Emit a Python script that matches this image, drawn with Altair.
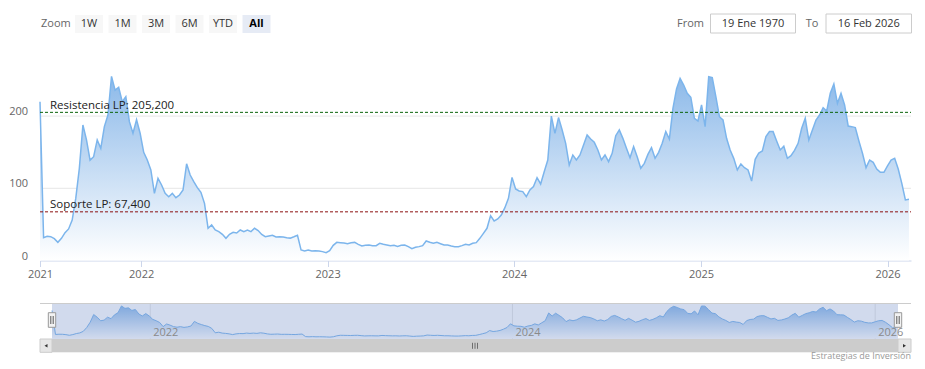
import altair as alt
import pandas as pd

# ---------------- data ----------------
START = "2021-06-17"
END = "2026-02-16"

# weekly closes
values = [
    220, 31.6, 33.5, 33, 30.3, 25.2, 30.7, 38.6, 43.7, 56, 86, 127.7, 187.7, 167, 139, 143.8,
    167, 155.4, 185.4, 201.5, 255, 236, 240, 220, 226.9, 192.3, 176.2, 195, 176.2, 149.8,
    139.2, 125.4, 93, 113.8, 104.6, 93, 88.4, 93, 87, 90.7, 97.7, 134, 118.4, 109.2, 100.9,
    94.4, 79.2, 44.6, 49.2, 42.3, 40, 36.3, 30.7, 36.3, 39, 38.1, 42.3, 40, 42.3, 40, 44.6,
    41.5, 36, 33, 34, 35, 32.5, 32.8, 32.5, 31.5, 31, 32.8, 34.8,
    14.6, 13.2, 14.6, 13.2, 13.6, 13.2, 12.3, 10.9, 13.5, 21, 25.2, 24.7, 24.2, 23.3, 24.7, 25.1, 22.4,
    20.1, 21, 21.5, 20.6, 20.6, 23.8, 22.4, 21.5, 20.6, 21, 19.6, 21, 21.5, 19.2, 16.4, 18.3,
    19.2, 20.6, 27, 25.2, 23.8, 25.2, 23.3, 21.5, 21.5, 20.1, 19.2, 19.2, 20.6, 22.4, 21.5, 23.8,
    24.7, 30.7, 37.6, 44.6, 62.1, 54.7, 57.5, 63, 73.2, 86.1, 115, 99.1, 96.3, 95.4, 88.4,
    97.7, 102.3, 114.7, 106, 123, 139.2, 200, 176, 198, 181, 162.3, 132.3, 146.1, 139.2,
    146.1, 160, 173.8, 168.3, 163.7, 153.1, 139.2, 146.1, 136.9, 148.5, 172.9, 180.8, 169.2,
    155.4, 142.4, 157.7, 143.8, 127.7, 134.6, 147, 156.3, 141.5, 149.8, 162.3, 178.5, 168.3,
    210.8, 237.6, 252.3, 243, 231.6, 226,
    197, 193.2, 215.4, 185.4, 254.6, 253.3, 227, 199.2, 194.6, 169.2, 153.1, 141.5, 125.4,
    133.7, 128.6, 125.4, 110, 140.1, 148.9, 151.7, 171.5, 178.5, 178.5, 165.5, 153.1, 158.2,
    141.5, 145.2, 152.6, 162.3, 183.1, 197, 166.9, 180.8, 194.6, 201.5, 211.7, 207.1, 231.6,
    244.5, 217.7, 231.6, 215.4, 186.3, 185.4, 184, 165.5, 148.5, 128.6, 139.2, 136, 126.7,
    122.1, 122.1, 130.9, 139.2, 141.5, 126.7, 106.9, 83.8, 84.7,
]
dates = pd.date_range(START, periods=len(values), freq="7D")

grid_values = [100, 200]
level_values = [205.2, 67.4]
level_labels = ["Resistencia LP: 205,200", "Soporte LP: 67,400"]
level_colors = ["#0a640a", "#8b1010"]

x_ticks = ["2021-06-17", "2022-01-01", "2023-01-01", "2024-01-01", "2025-01-01", "2026-01-01"]
y_ticks = [0, 100, 200]
nav_ticks = ["2022-01-01", "2024-01-01", "2026-01-01"]
nav_labels = ["2022", "2024", "2026"]

zoom_label = "Zoom"
zoom_buttons = ["1W", "1M", "3M", "6M", "YTD", "All"]
selected_button = "All"
from_label, from_value = "From", "19 Ene 1970"
to_label, to_value = "To", "16 Feb 2026"
credit = "Estrategias de Inversión"

FONT = "Open Sans"


def dt(s):
    y, m, d = (int(p) for p in s.split("-"))
    return alt.DateTime(year=y, month=m, date=d)


df = pd.DataFrame({"date": dates, "value": values})
df_grid = pd.DataFrame({"g": grid_values, "x0": pd.Timestamp(START), "x1": pd.Timestamp(END)})
df_lvl = pd.DataFrame({
    "v": level_values, "label": level_labels, "c": level_colors,
    "x0": pd.Timestamp(START), "x1": pd.Timestamp(END),
})
df_navt = pd.DataFrame({"t": pd.to_datetime(nav_ticks), "label": nav_labels})
one = pd.DataFrame({"d": [0]})

# ---------------- main chart scales / axes ----------------
xs_main = alt.Scale(domain=[dt(START), dt(END)], range=[32, 903], nice=False)
ys_main = alt.Scale(domain=[0, 300], range=[252.5, 35.9], nice=False, zero=True)

x_axis = alt.Axis(
    values=[dt(s) for s in x_ticks], labelExpr="timeFormat(datum.value, '%Y')",
    orient="bottom", offset=-100.5, title=None, grid=False,
    domainColor="#ccd6eb", tickColor="#ccd6eb", tickSize=6, labelPadding=2,
    labelColor="#666666", labelFontSize=11, labelFont=FONT, labelFlush=False,
    labelOverlap=False,
)
y_axis = alt.Axis(
    values=y_ticks, orient="left", offset=-19.5, title=None, grid=False,
    domain=False, ticks=False, tickSize=0, labelPadding=0, labelOffset=-4.5,
    labelColor="#666666", labelFontSize=11, labelFont=FONT,
)

grad = alt.Gradient(
    gradient="linear",
    stops=[alt.GradientStop(color="#8cb9e9", offset=0), alt.GradientStop(color="#ffffff", offset=1)],
    x1=1, x2=1, y1=0, y2=1,
)

grid = alt.Chart(df_grid).mark_rule(color="#e6e6e6", strokeWidth=1).encode(
    x=alt.X("x0:T", scale=xs_main, axis=x_axis),
    x2="x1:T",
    y=alt.Y("g:Q", scale=ys_main, axis=y_axis),
)
area = alt.Chart(df).mark_area(color=grad).encode(
    x=alt.X("date:T", scale=xs_main, axis=x_axis),
    y=alt.Y("value:Q", scale=ys_main, axis=y_axis),
)
line = alt.Chart(df).mark_line(color="#7cb5ec", strokeWidth=1.5).encode(
    x=alt.X("date:T", scale=xs_main, axis=x_axis),
    y=alt.Y("value:Q", scale=ys_main, axis=y_axis),
)
lvl_rule = alt.Chart(df_lvl).mark_rule(strokeDash=[3, 2], strokeWidth=1).encode(
    x=alt.X("x0:T", scale=xs_main, axis=x_axis),
    x2="x1:T",
    y=alt.Y("v:Q", scale=ys_main, axis=y_axis),
    color=alt.Color("c:N", scale=None),
)
lvl_text = alt.Chart(df_lvl).mark_text(
    align="left", baseline="alphabetic", dx=10, dy=-3.5, fontSize=11.5, font=FONT, color="#222222"
).encode(
    x=alt.X("x0:T", scale=xs_main, axis=x_axis),
    y=alt.Y("v:Q", scale=ys_main, axis=y_axis),
    text="label:N",
)
main = alt.layer(grid, area, line, lvl_rule, lvl_text)

# ---------------- navigator ----------------
xs_nav = alt.Scale(domain=[dt(START), dt(END)], range=[44, 890], nice=False)
ys_nav = alt.Scale(domain=[0, 260], range=[330.5, 297.3], nice=False)

nav_grid = alt.Chart(df_navt).mark_rule(color="#e6e6e6").encode(
    x=alt.X("t:T", scale=xs_nav, axis=None), y=alt.value(295), y2=alt.value(331)
)
nav_area = alt.Chart(df).mark_area(color=grad).encode(
    x=alt.X("date:T", scale=xs_nav, axis=None), y=alt.Y("value:Q", scale=ys_nav, axis=None)
)
nav_line = alt.Chart(df).mark_line(color="#7cb5ec", strokeWidth=1).encode(
    x=alt.X("date:T", scale=xs_nav, axis=None), y=alt.Y("value:Q", scale=ys_nav, axis=None)
)
nav_labels_layer = alt.Chart(df_navt).mark_text(
    align="left", baseline="alphabetic", dx=3, fontSize=11, font=FONT, color="#8a8a8a"
).encode(x=alt.X("t:T", scale=xs_nav, axis=None), y=alt.value(327.5), text="label:N")
nav = alt.layer(nav_grid, nav_area, nav_line)

base = alt.Chart(one)


def rect(x0, x1, y0, y1, **kw):
    return base.mark_rect(**kw).encode(
        x=alt.value(x0), x2=alt.value(x1), y=alt.value(y0), y2=alt.value(y1)
    )


def text(t, x, y, **kw):
    opts = dict(font=FONT, fontSize=11, baseline="middle", align="center", color="#333333")
    opts.update(kw)
    return base.mark_text(text=t, **opts).encode(x=alt.value(x), y=alt.value(y))


def vline(x, y0, y1, **kw):
    return base.mark_rule(**kw).encode(x=alt.value(x), y=alt.value(y0), y2=alt.value(y1))


def hline(x0, x1, y, **kw):
    return base.mark_rule(**kw).encode(x=alt.value(x0), x2=alt.value(x1), y=alt.value(y))


decor = []
# mask over navigator selection + outline
decor.append(rect(44, 890, 295.5, 331, color="#6685c2", opacity=0.3))
decor.append(hline(32, 903, 295.5, color="#cccccc", strokeWidth=1))
# scrollbar
decor.append(rect(32, 903, 331, 344.3, color="#f2f2f2"))
decor.append(rect(44, 890, 331, 344.3, color="#cccccc"))
decor.append(rect(32, 44, 331, 344.3, color="#e6e6e6", stroke="#cccccc", strokeWidth=1))
decor.append(rect(890, 903, 331, 344.3, color="#e6e6e6", stroke="#cccccc", strokeWidth=1))
decor.append(base.mark_point(shape="triangle-left", filled=True, size=12, color="#333333", opacity=1)
             .encode(x=alt.value(38), y=alt.value(337.7)))
decor.append(base.mark_point(shape="triangle-right", filled=True, size=12, color="#333333", opacity=1)
             .encode(x=alt.value(896.5), y=alt.value(337.7)))
for gx in (464.5, 467, 469.5):
    decor.append(vline(gx, 334.8, 340.8, color="#555555", strokeWidth=0.8))
# nav labels above mask
decor.append(nav_labels_layer)
# handles
for hx in (44, 890):
    decor.append(rect(hx - 3.7, hx + 3.7, 304.7, 319.3, color="#f2f2f2", stroke="#999999", strokeWidth=1))
    decor.append(vline(hx - 1.2, 308, 316, color="#333333", strokeWidth=0.8))
    decor.append(vline(hx + 1.2, 308, 316, color="#333333", strokeWidth=0.8))
# header: range selector
decor.append(text(zoom_label, 33, 16, align="left", color="#666666"))
for i, b in enumerate(zoom_buttons):
    sel = b == selected_button
    x0 = 67 + 33.5 * i
    decor.append(rect(x0, x0 + 28, 7, 25, color="#e6ebf5" if sel else "#f7f7f7"))
    decor.append(text(b, x0 + 14, 16, fontWeight="bold" if sel else "normal",
                      color="#000000" if sel else "#333333"))
decor.append(text(from_label, 682.5, 15.8, color="#666666"))
decor.append(rect(702.5, 787.5, 6, 25, color="#ffffff", stroke="#cccccc", strokeWidth=1))
decor.append(text(from_value, 745, 15.8))
decor.append(text(to_label, 804, 15.8, color="#666666"))
decor.append(rect(818, 903.5, 6, 25, color="#ffffff", stroke="#cccccc", strokeWidth=1))
decor.append(text(to_value, 860.8, 15.8))
# credits
decor.append(text(credit, 903, 347.5, align="right", baseline="middle", fontSize=9, color="#999999"))

chart = (
    alt.layer(main, nav, *decor)
    .resolve_scale(x="independent", y="independent")
    .properties(width=909, height=353, autosize=alt.AutoSizeParams(type="none"), padding=0)
    .configure(font=FONT)
    .configure_view(stroke=None, strokeWidth=0)
)

chart.save("out.html", embed_options={"renderer": "svg", "actions": False})
